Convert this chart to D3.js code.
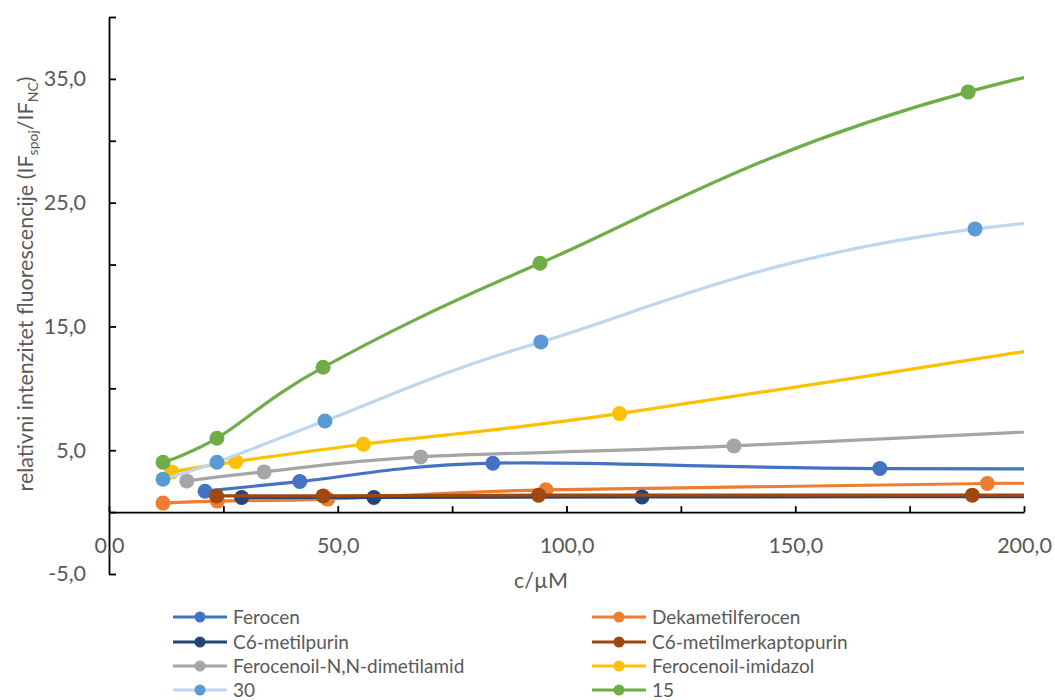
<!DOCTYPE html>
<html><head><meta charset="utf-8">
<script src="https://cdn.jsdelivr.net/npm/d3@7"></script>
<style>
html,body{margin:0;padding:0;background:#fff;}
svg{display:block;font-family:Lato,"Open Sans",sans-serif;}
</style></head>
<body>
<svg id="chart" width="1055" height="700"></svg>
<script>
// ---- data ----
const seriesNames = ["Ferocen", "Dekametilferocen", " C6-metilpurin", "C6-metilmerkaptopurin",
  "Ferocenoil-N,N-dimetilamid", "Ferocenoil-imidazol", "30", "15"];
// x = c/µM, y = relative fluorescence; last point of each series lies beyond the 200 µM axis end (clipped)
const ferocenX = [21.0, 41.7, 83.9, 168.5, 337];
const ferocenY = [1.69, 2.47, 3.95, 3.52, 3.40];
const dekaX = [11.8, 23.7, 47.8, 95.5, 192.0, 384];
const dekaY = [0.73, 0.89, 1.05, 1.80, 2.31, 3.0];
const c6purinX = [29.0, 57.9, 116.5, 233];
const c6purinY = [1.18, 1.18, 1.23, 1.25];
const c6merkX = [23.5, 46.8, 93.9, 188.7, 377];
const c6merkY = [1.31, 1.31, 1.37, 1.37, 1.35];
const amidX = [17.0, 33.9, 68.1, 136.6, 273];
const amidY = [2.52, 3.25, 4.46, 5.35, 7.8];
const imidX = [13.7, 27.7, 55.6, 111.6, 223];
const imidY = [3.25, 4.08, 5.48, 7.96, 14.3];
const s30X = [11.8, 23.6, 47.2, 94.4, 189.3, 378];
const s30Y = [2.66, 4.03, 7.36, 13.75, 22.88, 27.0];
const s15X = [11.8, 23.6, 46.8, 94.2, 187.8, 376];
const s15Y = [4.03, 5.97, 11.7, 20.1, 33.95, 48.5];

const xTicks = [0, 25, 50, 75, 100, 125, 150, 175, 200];
const xTickLabels = ["0,0", "", "50,0", "", "100,0", "", "150,0", "", "200,0"];
const yTicks = [-5, 0, 5, 10, 15, 20, 25, 30, 35, 40];
const yTickLabels = ["-5,0", "", "5,0", "", "15,0", "", "25,0", "", "35,0", ""];

const lineColors = ["#4472C4", "#ED7D31", "#264478", "#9E480E", "#A5A5A5", "#FFC000", "#BDD7EE", "#70AD47"];
const markerColors = ["#4472C4", "#ED7D31", "#264478", "#9E480E", "#A5A5A5", "#FFC000", "#5B9BD5", "#70AD47"];

const xs = [ferocenX, dekaX, c6purinX, c6merkX, amidX, imidX, s30X, s15X];
const ys = [ferocenY, dekaY, c6purinY, c6merkY, amidY, imidY, s30Y, s15Y];
const series = seriesNames.map((name, i) => ({
  name, line: lineColors[i], marker: markerColors[i],
  pts: xs[i].map((v, j) => ({x: v, y: ys[i][j]}))
}));

// ---- chart ----
const svg = d3.select("#chart");
const x = d3.scaleLinear().domain([0, 200]).range([109, 1024]);
const y = d3.scaleLinear().domain([-5, 40]).range([574, 17]);
const textColor = "#595959";

svg.append("defs").append("clipPath").attr("id", "plotclip")
  .append("rect").attr("x", x(0)).attr("y", 0).attr("width", x(200) - x(0)).attr("height", y(-5));

// axes
const yAxis = d3.axisLeft(y).tickValues(yTicks).tickSize(-7).tickSizeOuter(0).tickPadding(23)
  .tickFormat((d, i) => yTickLabels[i]);
const gy = svg.append("g").attr("transform", `translate(${x(0)},0)`).call(yAxis);
const xAxis = d3.axisBottom(x).tickValues(xTicks).tickSize(-6).tickSizeOuter(0)
  .tickFormat((d, i) => xTickLabels[i]);
const gx = svg.append("g").attr("transform", `translate(0,${y(0)})`).call(xAxis);
gx.selectAll(".tick text").attr("y", 33).attr("dy", "0.35em");
[gx, gy].forEach(g => {
  g.select(".domain").attr("stroke", "#000").attr("stroke-width", 1.8);
  g.selectAll(".tick line").attr("stroke", "#000").attr("stroke-width", 1.8);
  g.selectAll(".tick text").attr("fill", textColor).attr("font-size", 21.5)
    .attr("font-family", "Lato, 'Open Sans', sans-serif");
});

// series
const line = d3.line().x(d => x(d.x)).y(d => y(d.y)).curve(d3.curveCatmullRom.alpha(0));
const plot = svg.append("g").attr("clip-path", "url(#plotclip)");
series.forEach(s => {
  const g = plot.append("g");
  g.append("path").attr("d", line(s.pts)).attr("fill", "none")
    .attr("stroke", s.line).attr("stroke-width", 3.2).attr("stroke-linecap", "round");
  g.selectAll("circle").data(s.pts.filter(p => p.x <= 200)).join("circle")
    .attr("cx", d => x(d.x)).attr("cy", d => y(d.y)).attr("r", 7.5).attr("fill", s.marker);
});

// axis titles
const yt = svg.append("text").attr("transform", "translate(33,284) rotate(-90)")
  .attr("text-anchor", "middle").attr("fill", textColor).attr("font-size", 21.5);
yt.append("tspan").text("relativni intenzitet fluorescencije (IF");
yt.append("tspan").attr("font-size", 14).attr("dy", 5).text("spoj");
yt.append("tspan").attr("dy", -5).text("/IF");
yt.append("tspan").attr("font-size", 14).attr("dy", 5).text("NC");
yt.append("tspan").attr("dy", -5).text(")");

svg.append("text").attr("x", 541).attr("y", 580).attr("dy", "0.35em").attr("text-anchor", "middle")
  .attr("fill", textColor).attr("font-size", 21.5).text("c/\u00B5M");

// legend
const legCols = [173, 592];
const legRows = [617, 642, 666, 690];
series.forEach((s, i) => {
  const lx = legCols[i % 2], ly = legRows[Math.floor(i / 2)];
  const g = svg.append("g").attr("transform", `translate(${lx},${ly})`);
  g.append("line").attr("x1", 0).attr("x2", 54).attr("y1", 0).attr("y2", 0)
    .attr("stroke", s.line).attr("stroke-width", 3.2);
  g.append("circle").attr("cx", 27).attr("cy", 0).attr("r", 5.5).attr("fill", s.marker);
  g.append("text").attr("x", 60).attr("y", 0).attr("dy", "0.35em").attr("fill", textColor)
    .attr("font-size", 19).text(s.name.trim());
});
</script>
</body></html>
